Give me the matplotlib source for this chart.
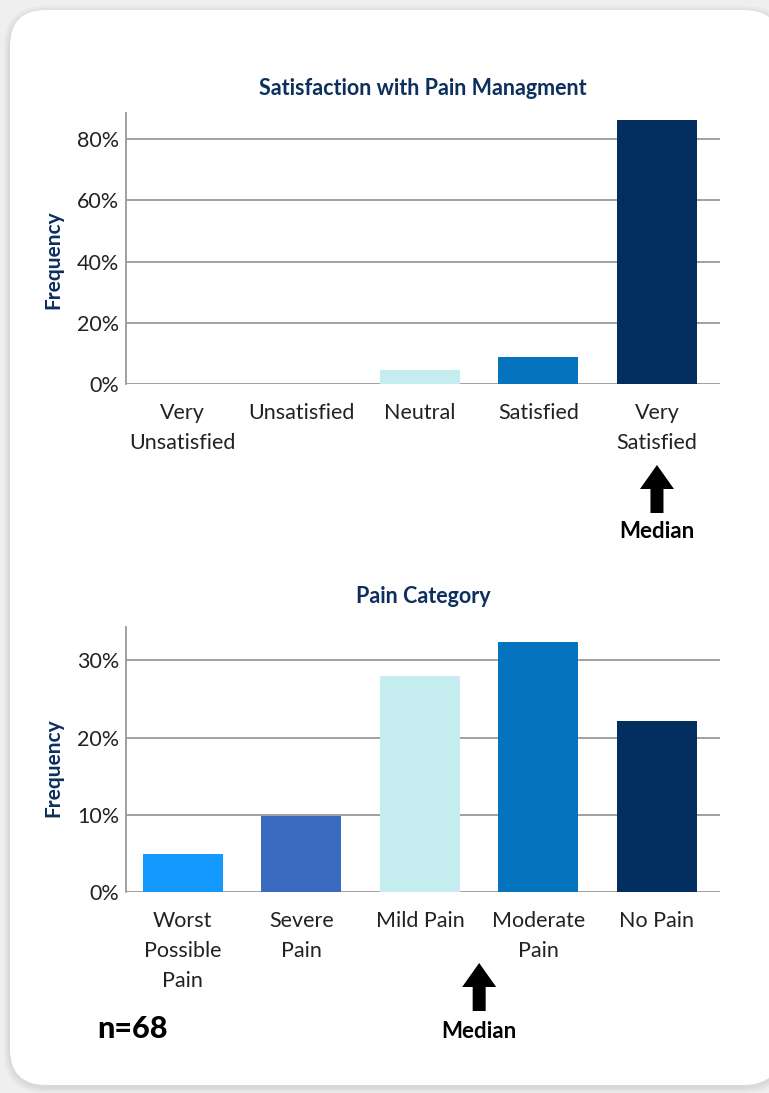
import matplotlib
matplotlib.use("Agg")
import matplotlib.pyplot as plt
from matplotlib.patches import FancyBboxPatch
from matplotlib.ticker import PercentFormatter

plt.rcParams['font.family'] = ['Lato', 'DejaVu Sans']

# data (percent of respondents, n=68)
sat_labels = ["Very\nUnsatisfied", "Unsatisfied", "Neutral", "Satisfied", "Very\nSatisfied"]
sat_values = [0, 0, 4.4, 8.8, 86.3]
sat_colors = ["#C5ECEE", "#C5ECEE", "#C5ECEE", "#0474BE", "#022F5F"]
sat_median = 4

pain_labels = ["Worst\nPossible\nPain", "Severe\nPain", "Mild Pain", "Moderate\nPain", "No Pain"]
pain_values = [4.9, 9.8, 27.9, 32.4, 22.1]
pain_colors = ["#1499FF", "#3A6BC0", "#C5ECEE", "#0474BE", "#022F5F"]
pain_median = 2.5

n_total = 68

W, H = 769, 1093
fig = plt.figure(figsize=(W / 100, H / 100), dpi=100)
fig.patch.set_facecolor("#EFEFEF")

# card background
bg = fig.add_axes([0, 0, 1, 1])
bg.set_xlim(0, W)
bg.set_ylim(H, 0)
bg.axis("off")
for i, a in enumerate([0.025, 0.03, 0.035]):
    g = 6 - 2 * i
    bg.add_patch(FancyBboxPatch((10 - g, 10 - g + 2), 770 + 2 * g, 1075 + 2 * g,
                                boxstyle="round,pad=0,rounding_size=40",
                                fc="#000000", ec="none", alpha=a))
bg.add_patch(FancyBboxPatch((10, 10), 770, 1075, boxstyle="round,pad=0,rounding_size=36",
                            fc="white", ec="none"))

navy = "#0D2F5E"
grid_c = "#9A9A9A"


def draw(rect, labels, values, colors, ymax, yticks, title, label_y, title_pad):
    ax = fig.add_axes(rect)
    x = range(len(values))
    ax.bar(x, values, width=0.675, color=colors, zorder=3)
    ax.set_xlim(-0.48, 4.53)
    ax.set_ylim(0, ymax)
    ax.set_yticks(yticks)
    ax.yaxis.set_major_formatter(PercentFormatter(decimals=0))
    ax.set_xticks(list(x))
    ax.set_xticklabels(labels, linespacing=1.6)
    ax.grid(axis="y", color=grid_c, linewidth=1.3, zorder=0)
    ax.set_axisbelow(True)
    for s in ["top", "right", "bottom"]:
        ax.spines[s].set_visible(False)
    ax.spines["left"].set_color(grid_c)
    ax.spines["left"].set_linewidth(1.3)
    ax.tick_params(axis="y", length=0, pad=5, labelsize=15.5, labelcolor="#222222")
    ax.tick_params(axis="x", length=0, pad=14, labelsize=15.5, labelcolor="#222222")
    ax.set_title(title, fontsize=15.5, fontweight="bold", color=navy, pad=title_pad)
    ax.set_ylabel("Frequency", fontsize=15, fontweight="bold", color=navy)
    ax.yaxis.set_label_coords(-0.105, label_y)
    return ax


ax1 = draw([0.1638, 0.6487, 0.7722, 0.2479], sat_labels, sat_values, sat_colors,
           88.5, [0, 20, 40, 60, 80], "Satisfaction with Pain Managment", 0.46, 13)
ax2 = draw([0.1638, 0.1839, 0.7722, 0.2424], pain_labels, pain_values, pain_colors,
           34.3, [0, 10, 20, 30], "Pain Category", 0.47, 17)


def median_arrow(ax, xpos, y_tip, y_tail, y_text):
    ax.annotate("", xy=(xpos, H - y_tip), xytext=(xpos, H - y_tail),
                xycoords=("data", "figure pixels"), textcoords=("data", "figure pixels"),
                arrowprops=dict(arrowstyle="simple,head_length=1.2,head_width=1.7,tail_width=0.65",
                                mutation_scale=14.4, fc="black", ec="none",
                                shrinkA=0, shrinkB=0),
                annotation_clip=False)
    ax.annotate("Median", xy=(xpos, H - y_text), xycoords=("data", "figure pixels"),
                ha="center", va="center", fontsize=16, fontweight="bold", color="black",
                annotation_clip=False)


median_arrow(ax1, sat_median, 465, 513, 532)
median_arrow(ax2, pain_median, 963, 1011, 1031)

fig.text(97 / W, 1 - 1029 / H, f"n={n_total}", ha="left", va="center",
         fontsize=22, fontweight="black", color="black")

fig.savefig("out.png", dpi=100, facecolor=fig.get_facecolor())
